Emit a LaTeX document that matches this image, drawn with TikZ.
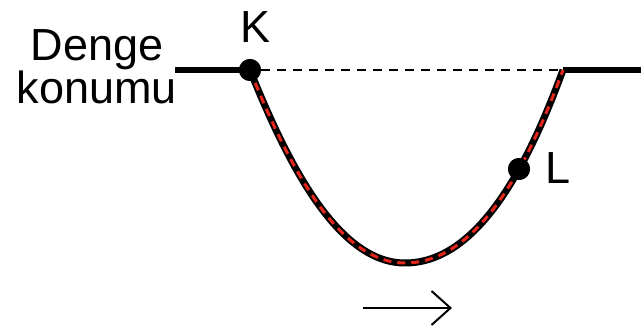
\documentclass[tikz,border=0pt]{standalone}
\usepackage{fontspec}
\setmainfont{Liberation Sans}
\usetikzlibrary{arrows.meta}
\definecolor{dashred}{RGB}{228,38,28}
\begin{document}
\begin{tikzpicture}[x=1pt,y=-1pt,
  ground/.style={line width=6pt},
  rope/.style={line width=7pt,black},
  ropedash/.style={line width=3pt,dashred,dash pattern=on 8pt off 6pt},
  levelline/.style={line width=2pt,dash pattern=on 9pt off 7pt},
  ball/.style={circle,fill=black,inner sep=0pt,minimum size=22pt},
  lbl/.style={font=\fontsize{45}{40}\selectfont,inner sep=0pt},
]
\useasboundingbox (0,0) rectangle (641,331);
\coordinate (gl) at (175,70);
\coordinate (gr) at (563,70);
\coordinate (ge) at (641,70);
\coordinate (bot) at (405,263);
\node[ball] (K) at (250,70) {};
\node[ball] (L) at (519,169) {};
\draw[ground] (gl) -- (K.center);
\draw[ground] (gr) -- (ge);
\draw[levelline] (K.east) -- (gr);
\def\curvepath{(K.center) .. controls (290,170) and (340,263) .. (bot) .. controls (480,263) and (530,160) .. (gr)}
\draw[rope] \curvepath;
\draw[ropedash] \curvepath;
\fill (K.center) circle (11pt);
\fill (L.center) circle (11pt);
\node[lbl,align=center] (denge) at (97,67) {Denge\\konumu};
\node[lbl] (Klbl) at (256,27) {K};
\node[lbl] (Llbl) at (558,168) {L};
\coordinate (a1) at (363,308);
\coordinate (a2) at (452,308);
\draw[line width=2pt,-{Straight Barb[length=19pt,width=34pt,line width=2pt]}] (a1) -- (a2);
\end{tikzpicture}
\end{document}
